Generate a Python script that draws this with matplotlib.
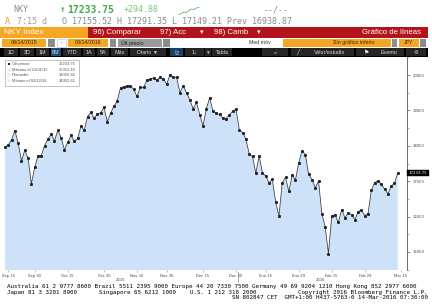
import numpy as np
import matplotlib.pyplot as plt
from matplotlib.patches import Rectangle
from matplotlib.transforms import blended_transform_factory

# NKY Index daily close, 09/14/2015 - 03/14/2016 (trading days)
close = [
    17965.70, 18026.48, 18171.60, 18432.27, 18070.21,
    17571.83, 17880.51,
    17645.11, 16930.84, 17388.15,
    17722.42, 17725.13,
    18005.49, 18186.10, 18322.98, 18141.17, 18438.67,
    18234.74, 17891.00, 18096.90, 18291.80,
    18131.23, 18207.15, 18554.28, 18435.87, 18825.30,
    18947.12, 18777.04, 18903.02, 18935.71, 19083.10,
    18683.24, 18926.91, 19116.41, 19265.60,
    19642.74, 19671.26, 19697.77, 19691.39, 19596.91,
    19393.69, 19649.67, 19648.53, 19859.81, 19879.81,
    19924.89, 19847.58, 19944.41, 19883.94,
    19747.47, 20012.40, 19938.13, 19939.90, 19504.48,
    19698.15, 19492.60, 19301.07, 19046.55, 19230.48,
    18883.42, 18565.90, 19049.91, 19353.56, 18986.80,
    18916.02, 18886.70, 18789.69, 18769.06,
    18873.35, 18982.23, 19033.71,
    18450.98, 18374.00, 18191.32, 17767.34, 17697.96,
    17218.96, 17715.63, 17240.95, 17147.11,
    16955.57, 17048.37, 16416.19, 16017.26, 16958.53,
    17110.91, 16708.90, 17163.92, 17041.45, 17518.30,
    17865.23, 17750.68, 17191.25, 17044.99, 16819.59,
    17004.30, 16085.44, 15713.39, 14952.61,
    16022.58, 16054.43, 15836.36, 16196.76, 15967.17,
    16111.05, 16052.05, 15915.79, 16140.34, 16188.41,
    16026.76, 16085.51, 16746.55, 16960.16, 17014.78,
    16911.32, 16783.15, 16642.20, 16852.35, 16938.87,
    17233.75,
]

# x ticks (trading-day index) and labels
tick_idx = [1, 9, 19, 30, 40, 49, 60, 70, 79, 89, 99, 109, 120]
tick_labels = ["Sep 15", "Sep 30", "Oct 15", "Oct 30", "Nov 16", "Nov 30", "Dec 15",
               "Dec 30", "Ene 15", "Ene 29", "Feb 15", "Feb 29", "Mar 15"]
years = ["2015", "2016"]
year_center = [35, 95.5]
year_split = 70.5
y_ticks = [15000, 16000, 17000, 18000, 19000, 20000]

legend_rows = [("Últ precio", "17233.75"),
               ("Máximo el 12/01/15", "20012.40"),
               ("Promedio", "18025.82"),
               ("Mínimo el 02/12/16", "14952.61")]

footer1 = "Australia 61 2 9777 8600 Brazil 5511 2395 9000 Europe 44 20 7330 7500 Germany 49 69 9204 1210 Hong Kong 852 2977 6000"
footer2 = ["Japan 81 3 3201 8900", "Singapore 65 6212 1000", "U.S. 1 212 318 2000",
           "Copyright 2016 Bloomberg Finance L.P."]
footer3 = "SN 802847 CET  GMT+1:00 H437-5763-0 14-Mar-2016 07:36:00"

W, H = 432, 306
fig = plt.figure(figsize=(W / 100, H / 100), dpi=100)
fig.patch.set_facecolor("white")
MONO = "DejaVu Sans Mono"
SANS = "Liberation Sans"


def fx(x):
    return x / W


def fy(y):
    return 1 - y / H


def box(x0, y0, x1, y1, color, ec="none", lw=0):
    fig.patches.append(Rectangle((fx(x0), fy(y1)), (x1 - x0) / W, (y1 - y0) / H,
                                 transform=fig.transFigure, facecolor=color,
                                 edgecolor=ec, lw=lw))


def txt(x, y, s, **kw):
    kw.setdefault("va", "center")
    fig.text(fx(x), fy(y), s, **kw)


# ---- main chart ----
ax = fig.add_axes([fx(4), fy(270), (407 - 4) / W, (270 - 57) / H])
x = np.arange(len(close))
ax.fill_between(x, close, 0, color="#cde2f8", lw=0)
ax.plot(x, close, color="#3a3a3a", lw=0.55, marker="s", ms=1.1, mec="#222222", mfc="#222222")
ax.set_xlim(-0.3, 121.8)
ax.set_ylim(14490, 20510)

for s in ["left", "top", "bottom"]:
    ax.spines[s].set_visible(False)
ax.spines["right"].set_color("#555555")
ax.spines["right"].set_linewidth(0.6)
ax.yaxis.tick_right()
ax.set_yticks(y_ticks)
ax.set_yticklabels([str(v) for v in y_ticks])
ax.set_yticks([v + 500 for v in y_ticks[:-1]] + [14500, 20500], minor=True)
ax.tick_params(axis="y", which="major", length=2.5, width=0.5, colors="#555555",
               labelsize=2.7, pad=1.5, labelcolor="#444444")
ax.tick_params(axis="y", which="minor", length=1.3, width=0.4, colors="#777777")
ax.set_xticks(tick_idx)
ax.set_xticklabels(tick_labels)
ax.tick_params(axis="x", length=1.5, width=0.4, colors="#888888", labelsize=2.7,
               pad=1.2, labelcolor="#444444")

bt = blended_transform_factory(ax.transData, ax.transAxes)
ax.plot([year_split, year_split], [-0.01, -0.058], color="#666666", lw=0.4,
        transform=bt, clip_on=False)
for yr, c in zip(years, year_center):
    ax.text(c, -0.045, yr, transform=bt, ha="center", va="center", fontsize=2.7,
            color="#444444")

# last price tag
bt2 = blended_transform_factory(ax.transAxes, ax.transData)
ax.text(1.004, close[-1], f"{close[-1]:.2f}", transform=bt2, ha="left", va="center",
        fontsize=2.8, color="white",
        bbox=dict(boxstyle="square,pad=0.35", fc="black", ec="black", lw=0.3))

# legend box
box(5, 60, 79, 86, "white", ec="#aaaaaa", lw=0.5)
for i, (lab, val) in enumerate(legend_rows):
    yy = 64 + i * 5.6
    if i == 0:
        box(8, yy - 1, 10, yy + 1, "#222222")
    else:
        box(8, yy - 1, 10, yy + 1, "white", ec="#cccccc", lw=0.3)
    txt(12, yy, lab, fontsize=3.0, color="#555555", family=SANS)
    txt(76, yy, val, fontsize=3.0, color="#555555", family=SANS, ha="right")

# ---- header ----
txt(13, 10, "NKY", fontsize=6.0, color="#8a8a8a", family=MONO)
txt(60, 10, "↑", fontsize=6.5, color="#3fae49", family=MONO, weight="bold")
txt(67, 10, "17233.75", fontsize=7.0, color="#3fae49", family=MONO, weight="bold")
txt(124, 10, "+294.88", fontsize=6.0, color="#7cc67f", family=MONO)
spark_vals = [16938, 16990, 17050, 17020, 17110, 17160, 17150, 17210, 17233]
sax = fig.add_axes([fx(178), fy(15), 22 / W, 8 / H])
sax.plot(spark_vals, color="#3fae49", lw=0.5)
sax.axis("off")
txt(264, 10, "--/--", fontsize=6.0, color="#8a8a8a", family=MONO)

txt(5, 21, "A", fontsize=6.0, color="#f0a030", family=MONO)
txt(17, 21, "7:15 d", fontsize=6.0, color="#999999", family=MONO)
txt(62, 21, "O 17155.52 H 17291.35 L 17149.21 Prev 16938.87", fontsize=6.0,
    color="#8a8a8a", family=MONO)

# orange / red bar
box(0, 27, 88, 38, "#f5a623")
txt(4, 32.5, "NKY Index", fontsize=6.0, color="white", family=SANS)
box(88, 27, 428, 38, "#b3141c")
txt(93, 32.5, "96) Comparar", fontsize=5.6, color="white", family=SANS)
txt(160, 32.5, "97) Acc", fontsize=5.6, color="white", family=SANS)
txt(200, 32.5, "▾", fontsize=5, color="white", family="DejaVu Sans")
txt(214, 32.5, "98) Camb", fontsize=5.6, color="white", family=SANS)
txt(257, 32.5, "▾", fontsize=5, color="white", family="DejaVu Sans")
txt(421, 32.5, "Gráfico de líneas", fontsize=5.6, color="white", family=SANS, ha="right")

# date / field row
box(2, 39, 46, 46.5, "#f5a623")
txt(24, 42.8, "09/14/2015", fontsize=3.8, color="#3a2000", family=SANS, ha="center")
box(48, 39, 55, 46.5, "#8c8c8c")
box(57, 39, 66, 46.5, "white", ec="#bbbbbb", lw=0.4)
txt(61.5, 42.8, "-", fontsize=3.8, color="#333333", family=SANS, ha="center")
box(68, 39, 108, 46.5, "#f5a623")
txt(88, 42.8, "03/14/2016", fontsize=3.8, color="#3a2000", family=SANS, ha="center")
box(110, 39, 116, 46.5, "#8c8c8c")
box(118, 39, 162, 46.5, "#9a9a9a")
txt(121, 42.8, "Últ precio", fontsize=3.8, color="#1a1a1a", family=SANS)
box(163, 39, 170, 46.5, "#8c8c8c")

txt(271, 42.8, "Med móv", fontsize=3.8, color="#333333", family=SANS, ha="right")
for x0 in [283, 299, 315]:
    box(x0, 39, x0 + 15.5, 46.5, "#f5a623")
box(331, 39, 391, 46.5, "#f5a623")
txt(333, 42.8, "Sin gráfico inferio", fontsize=3.8, color="#3a2000", family=SANS)
box(392, 39, 397, 46.5, "#8c8c8c")
box(399, 39, 419, 46.5, "#f5a623")
txt(409, 42.8, "JPY", fontsize=3.8, color="#3a2000", family=SANS, ha="center")
box(420, 39, 426, 46.5, "#8c8c8c")

# black button bar
box(0, 47.5, 428, 57, "black")
buttons = [("1D", 4, 18), ("3D", 20, 34), ("1M", 36, 49), ("6M", 51, 61),
           ("YTD", 63, 81), ("1A", 83, 95), ("5A", 97, 109), ("Máx", 111, 128),
           ("Diario ▼", 130, 166), ("1↓", 185, 204), ("▾", 205, 211), ("Tabla", 212, 232),
           ("«", 262, 288), ("Valor/estudio", 291, 354), ("Evento", 356, 404), ("⚙", 406, 426)]
for lab, x0, x1 in buttons:
    fc = "#1d4f7c" if lab == "6M" else "#262626"
    box(x0, 48.5, x1, 56, fc)
    xx = (x0 + x1) / 2
    if lab == "Valor/estudio":
        xx = 330
    if lab == "Evento":
        xx = 389
    txt(xx, 52.4, lab, fontsize=3.9, color="#d8d8d8", family=["Liberation Sans", "DejaVu Sans"],
        ha="center")
box(170, 48.5, 183, 56, "#1d3f66")
txt(176.5, 52.4, "⊵", fontsize=4, color="#9fc6ee", family="DejaVu Sans", ha="center")
txt(298, 52.4, "╱", fontsize=4, color="#d8d8d8", family="DejaVu Sans", ha="center")
txt(367, 52.4, "⚑", fontsize=4.2, color="#ffffff", family="DejaVu Sans", ha="center")

# footer
txt(7, 286.5, footer1, fontsize=4.2, color="black", family=MONO)
txt(7, 292.2, footer2[0], fontsize=4.2, color="black", family=MONO)
txt(99, 292.2, footer2[1], fontsize=4.2, color="black", family=MONO)
txt(190, 292.2, footer2[2], fontsize=4.2, color="black", family=MONO)
txt(428, 292.2, footer2[3], fontsize=4.2, color="black", family=MONO, ha="right")
txt(428, 297.8, footer3, fontsize=4.2, color="black", family=MONO, ha="right")

fig.savefig("out.png", dpi=100)
